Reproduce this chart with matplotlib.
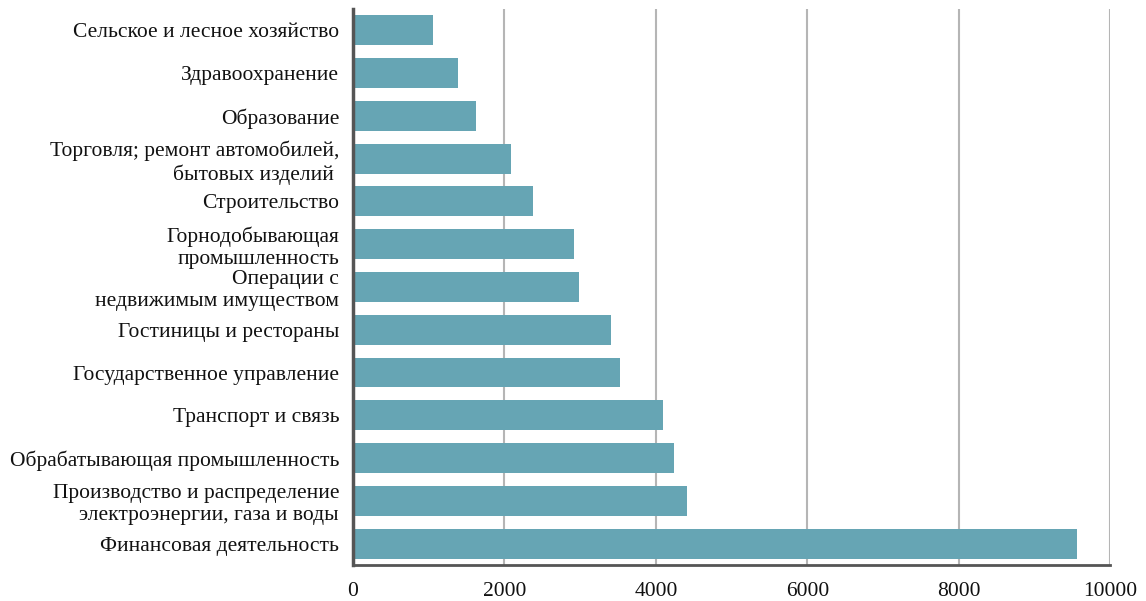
import matplotlib
matplotlib.use("Agg")
import matplotlib.pyplot as plt

categories = [
    "Сельское и лесное хозяйство",
    "Здравоохранение",
    "Образование",
    "Торговля; ремонт автомобилей,\nбытовых изделий ",
    "Строительство",
    "Горнодобывающая\nпромышленность",
    "Операции с\nнедвижимым имуществом",
    "Гостиницы и рестораны",
    "Государственное управление",
    "Транспорт и связь",
    "Обрабатывающая промышленность",
    "Производство и распределение\nэлектроэнергии, газа и воды",
    "Финансовая деятельность",
]
values = [1050, 1380, 1620, 2080, 2380, 2920, 2980, 3410, 3520, 4090, 4235, 4410, 9560]
xticks = [0, 2000, 4000, 6000, 8000, 10000]

plt.rcParams['font.family'] = ['Liberation Serif', 'DejaVu Serif']

fig = plt.figure(figsize=(11.46, 6.01), dpi=100)
ax = fig.add_axes([0.308, 0.06, 0.661, 0.925])

pos = list(range(len(categories)))
ax.barh(pos, values, height=0.7, color="#66a5b4", zorder=3)
ax.set_ylim(len(categories) - 0.5, -0.5)
ax.set_xlim(0, 10000)
ax.set_xticks(xticks)
ax.set_xticklabels([str(t) for t in xticks], fontsize=15.5, color="#111111")
ax.set_yticks(pos)
ax.set_yticklabels(categories, fontsize=15.5, linespacing=1.2, color="#111111")
ax.tick_params(axis='both', length=0)
ax.tick_params(axis='y', pad=10)
ax.tick_params(axis='x', pad=12)
ax.xaxis.grid(True, color="#b5b5b5", linewidth=1.5, zorder=0)
for s in ['top', 'right']:
    ax.spines[s].set_visible(False)
ax.spines['left'].set_color("#555555")
ax.spines['left'].set_linewidth(2.5)
ax.spines['bottom'].set_color("#555555")
ax.spines['bottom'].set_linewidth(2)
ax.spines['left'].set_zorder(4)

fig.savefig("out.png", dpi=100)
